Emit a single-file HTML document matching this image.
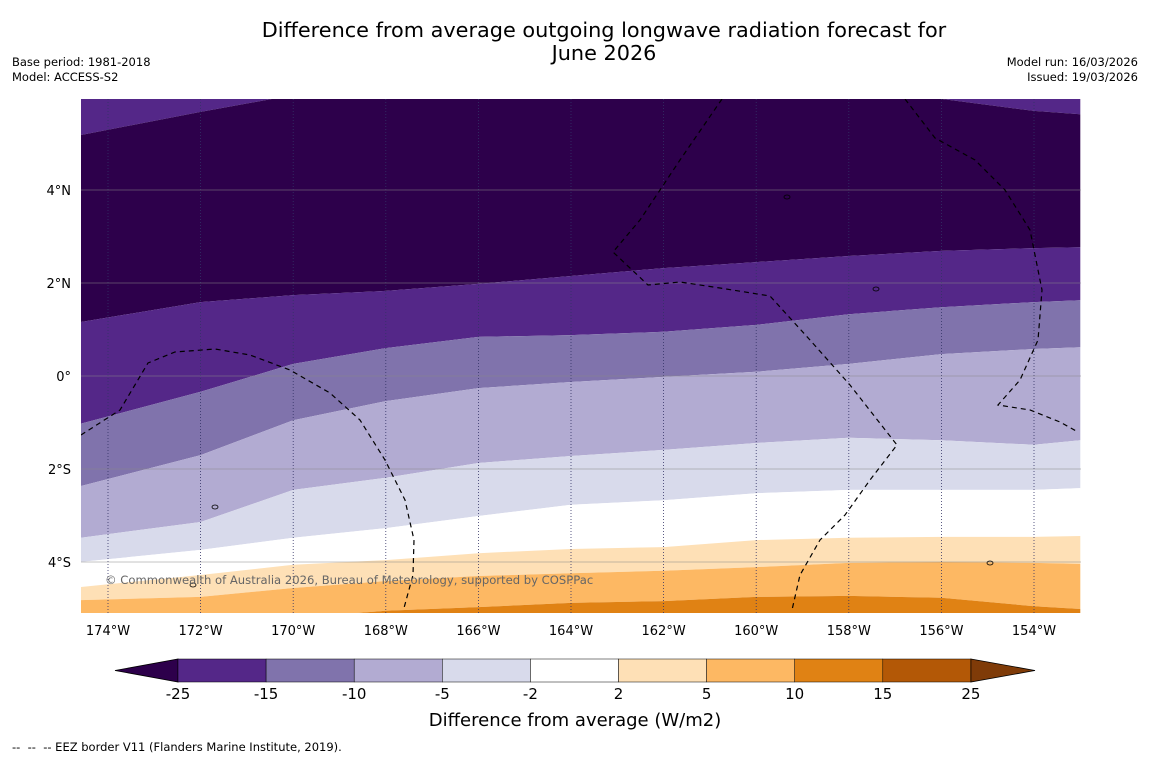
<!DOCTYPE html>
<html><head><meta charset="utf-8">
<style>
body{margin:0;background:#fff;font-family:"DejaVu Sans","Liberation Sans",sans-serif;}
#wrap{position:relative;width:1150px;height:758px;overflow:hidden;background:#fff;}
.t{position:absolute;color:#000;}
</style></head>
<body>
<div id="wrap">
<div class="t" style="left:0;width:1208px;top:19px;text-align:center;font-size:20.8px;line-height:23px;">Difference from average outgoing longwave radiation forecast for<br>June 2026</div>
<div class="t" style="left:12px;top:55px;font-size:11.5px;line-height:15px;">Base period: 1981-2018<br>Model: ACCESS-S2</div>
<div class="t" style="right:12px;top:55px;font-size:11.5px;line-height:15px;text-align:right;">Model run: 16/03/2026<br>Issued: 19/03/2026</div>
<svg id="svg" width="1150" height="758" style="position:absolute;left:0;top:0"></svg>
<div class="t" style="left:12px;top:740px;font-size:11.5px;">--&nbsp; --&nbsp; -- EEZ border V11 (Flanders Marine Institute, 2019).</div>
</div>
<script>
const lons=[-174.6,-172,-170,-168,-166,-164,-162,-160,-158,-156,-154,-153];
const bTop=[5.18,5.68,6.04,6.1,6.1,6.1,6.1,6.1,6.04,5.96,5.70,5.63];
const b25=[1.16,1.59,1.74,1.83,1.98,2.15,2.32,2.45,2.58,2.69,2.75,2.77];
const b15=[-1.03,-0.34,0.26,0.60,0.84,0.88,0.95,1.10,1.33,1.48,1.59,1.63];
const b10=[-2.37,-1.70,-0.95,-0.54,-0.26,-0.13,-0.02,0.09,0.26,0.47,0.58,0.62];
const b5=[-3.48,-3.14,-2.45,-2.19,-1.87,-1.72,-1.59,-1.44,-1.33,-1.38,-1.48,-1.38];
const b2=[-4.0,-3.74,-3.48,-3.27,-3.01,-2.77,-2.67,-2.52,-2.45,-2.45,-2.45,-2.41];
const p2=[-4.54,-4.28,-4.06,-3.96,-3.81,-3.72,-3.68,-3.53,-3.48,-3.46,-3.46,-3.44];
const p5=[-4.82,-4.75,-4.56,-4.41,-4.30,-4.24,-4.19,-4.11,-4.02,-4.0,-4.02,-4.04];
const p10=[-5.2,-5.2,-5.2,-5.05,-4.97,-4.88,-4.84,-4.75,-4.73,-4.77,-4.95,-5.01];
const lonTicks=[-174,-172,-170,-168,-166,-164,-162,-160,-158,-156,-154];
const latTicks=[4,2,0,-2,-4];
const cbLevels=["-25","-15","-10","-5","-2","2","5","10","15","25"];
const cbColors=["#542788","#8073ac","#b2abd2","#d8daeb","#ffffff","#fee0b6","#fdb863","#e08214","#b35806"];

const FONT="DejaVu Sans, Liberation Sans, sans-serif";
const X=lon=>108+(lon+174)*46.3;
const Y=lat=>376-lat*46.5;
const svg=document.getElementById('svg');
const NS="http://www.w3.org/2000/svg";
function mk(tag,attrs,parent){const e=document.createElementNS(NS,tag);for(const k in attrs)e.setAttribute(k,attrs[k]);(parent||svg).appendChild(e);return e;}
const defs=mk('defs',{});
const cp=mk('clipPath',{id:'clip'},defs);mk('rect',{x:81,y:99,width:1000,height:514},cp);
const g=mk('g',{'clip-path':'url(#clip)'});
function line(arr){return lons.map((l,i)=>X(l).toFixed(1)+','+Y(arr[i]).toFixed(1));}
function band(upper,lower,color,name){
  const pts=line(upper).concat(line(lower).reverse());
  const p=mk('polygon',{points:pts.join(' '),fill:color},g);
  
  
}
const topE=lons.map(()=>7), botE=lons.map(()=>-6);
band(topE,bTop,"#542788","band-minus15-minus25-top");
band(bTop,b25,"#2d004b","band-below-minus25");
band(b25,b15,"#542788","band-minus15-minus25");
band(b15,b10,"#8073ac","band-minus10-minus15");
band(b10,b5,"#b2abd2","band-minus5-minus10");
band(b5,b2,"#d8daeb","band-minus2-minus5");
band(b2,p2,"#ffffff","band-minus2-2");
band(p2,p5,"#fee0b6","band-2-5");
band(p5,p10,"#fdb863","band-5-10");
band(p10,botE,"#e08214","band-10-15");
lonTicks.forEach(l=>{const e=mk('line',{x1:X(l),x2:X(l),y1:99,y2:613,stroke:'#333366','stroke-width':0.8,'stroke-dasharray':'1,2'},g);
 });
latTicks.forEach(l=>{const e=mk('line',{x1:81,x2:1081,y1:Y(l),y2:Y(l),stroke:'#888','stroke-width':0.5},g);
 });
const eez=["M81,435 L120,410 L148,363 L175,352 L215,349 L250,355 L290,370 L330,393 L360,420 L385,460 L405,500 L414,540 L413,575 L404,608",
 "M722,99 L680,160 L640,220 L613,252 L648,285 L680,282 L720,288 L770,296 L810,340 L850,385 L897,445 L870,480 L845,515 L820,540 L800,575 L792,610",
 "M905,99 L935,138 L975,160 L1005,190 L1030,230 L1042,290 L1038,340 L1020,380 L998,405 L1030,410 L1060,422 L1078,432"];
eez.forEach(d=>{const e=mk('path',{d:d,fill:'none',stroke:'#000','stroke-width':1.2,'stroke-dasharray':'5,4'},g);
 });
[[787,197],[876,289],[215,507],[193,585],[990,563]].forEach(p=>{const e=mk('ellipse',{cx:p[0],cy:p[1],rx:3,ry:2,fill:'none',stroke:'#000','stroke-width':0.8},g);
 });
const cr=mk('text',{x:105,y:584,'font-size':11.6,fill:'#666','font-family':FONT},g);cr.textContent="© Commonwealth of Australia 2026, Bureau of Meteorology, supported by COSPPac";

lonTicks.forEach(l=>{const t=mk('text',{x:X(l),y:635,'font-size':13,'text-anchor':'middle','font-family':FONT});t.textContent=Math.abs(l)+"°W";
 });
latTicks.forEach(l=>{const t=mk('text',{x:71,y:Y(l)+5,'font-size':13,'text-anchor':'end','font-family':FONT});t.textContent=l===0?"0°":Math.abs(l)+"°"+(l>0?"N":"S");
 });
const cx0=178,cw=88.1,cy=659,ch=23;
const lt=mk('polygon',{points:`115,${cy+ch/2} ${cx0},${cy} ${cx0},${cy+ch}`,fill:'#2d004b',stroke:'#000','stroke-width':0.8});

cbColors.forEach((c,i)=>{const r=mk('rect',{x:cx0+i*cw,y:cy,width:cw,height:ch,fill:c,stroke:'#000','stroke-width':0.5});
 });
const xe=cx0+cbColors.length*cw;
const rt=mk('polygon',{points:`${xe},${cy} 1035,${cy+ch/2} ${xe},${cy+ch}`,fill:'#7f3b08',stroke:'#000','stroke-width':0.8});

cbLevels.forEach((v,i)=>{const t=mk('text',{x:cx0+i*cw,y:699,'font-size':15,'text-anchor':'middle','font-family':FONT});t.textContent=v;
 });
const ct=mk('text',{x:575,y:726,'font-size':18,'text-anchor':'middle','font-family':FONT});ct.textContent="Difference from average (W/m2)";

</script>
</body></html>
